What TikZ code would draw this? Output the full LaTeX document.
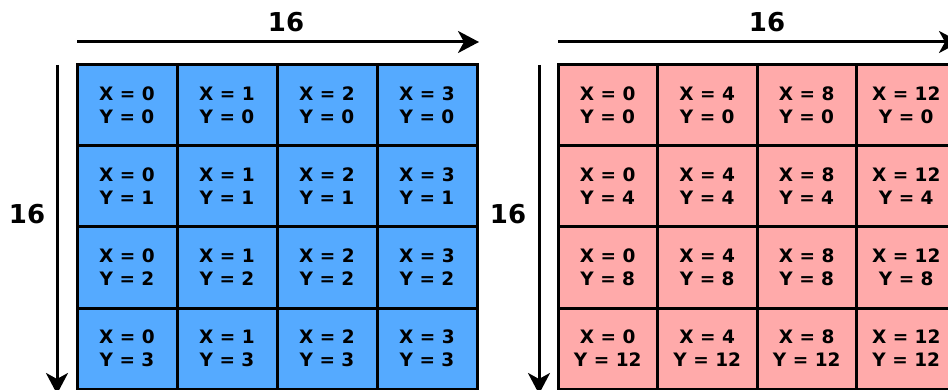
\documentclass[tikz,border=0pt]{standalone}
\usepackage{fontspec}
\setmainfont{DejaVu Sans}
\usetikzlibrary{arrows.meta}
\definecolor{cellblue}{HTML}{55AAFF}
\definecolor{cellred}{HTML}{FFAAAA}
\newcommand{\cellfont}{\fontsize{18.5}{23}\selectfont\bfseries}
\newcommand{\sizefont}{\fontsize{26}{30}\selectfont\bfseries}

\begin{document}
\begin{tikzpicture}[x=1pt, y=-1pt,
  cell/.style = {draw, line width=3pt, minimum height=81pt, inner sep=0pt, align=center, font=\cellfont},
  blue cell/.style = {cell, fill=cellblue, minimum width=100pt},
  red cell/.style = {cell, fill=cellred, minimum width=99.5pt},
  dim/.style = {line width=3pt, -{Stealth[length=21pt, width=22pt, inset=6pt]}},
  size/.style = {font=\sizefont},
  ]
  \clip (0,0) rectangle (948,390);

  \foreach \c in {0,...,3}
    \foreach \r in {0,...,3}
      \node[blue cell] (l-\c-\r) at ({127+100*\c},{105.5+81*\r}) {X = \c\\Y = \r};

  \foreach \c in {0,...,3}
    \foreach \r in {0,...,3}
      \node[red cell] (r-\c-\r) at ({607.75+99.5*\c},{105.5+81*\r})
        {\pgfmathparse{int(4*\c)}X = \pgfmathresult\\\pgfmathparse{int(4*\r)}Y = \pgfmathresult};

  \coordinate (ltop-a) at (77,42);
  \coordinate (ltop-b) at (479,42);
  \coordinate (lside-a) at (57,65);
  \coordinate (lside-b) at (57,394);
  \coordinate (rtop-a) at (558,42);
  \coordinate (rtop-b) at (960,42);
  \coordinate (rside-a) at (539,65);
  \coordinate (rside-b) at (539,394);

  \draw[dim] (ltop-a) -- (ltop-b);
  \draw[dim] (lside-a) -- (lside-b);
  \draw[dim] (rtop-a) -- (rtop-b);
  \draw[dim] (rside-a) -- (rside-b);

  \node[size] (ltop-label) at (286,22) {16};
  \node[size] (lside-label) at (27,214) {16};
  \node[size] (rtop-label) at (767,22) {16};
  \node[size] (rside-label) at (508,214) {16};
\end{tikzpicture}
\end{document}
